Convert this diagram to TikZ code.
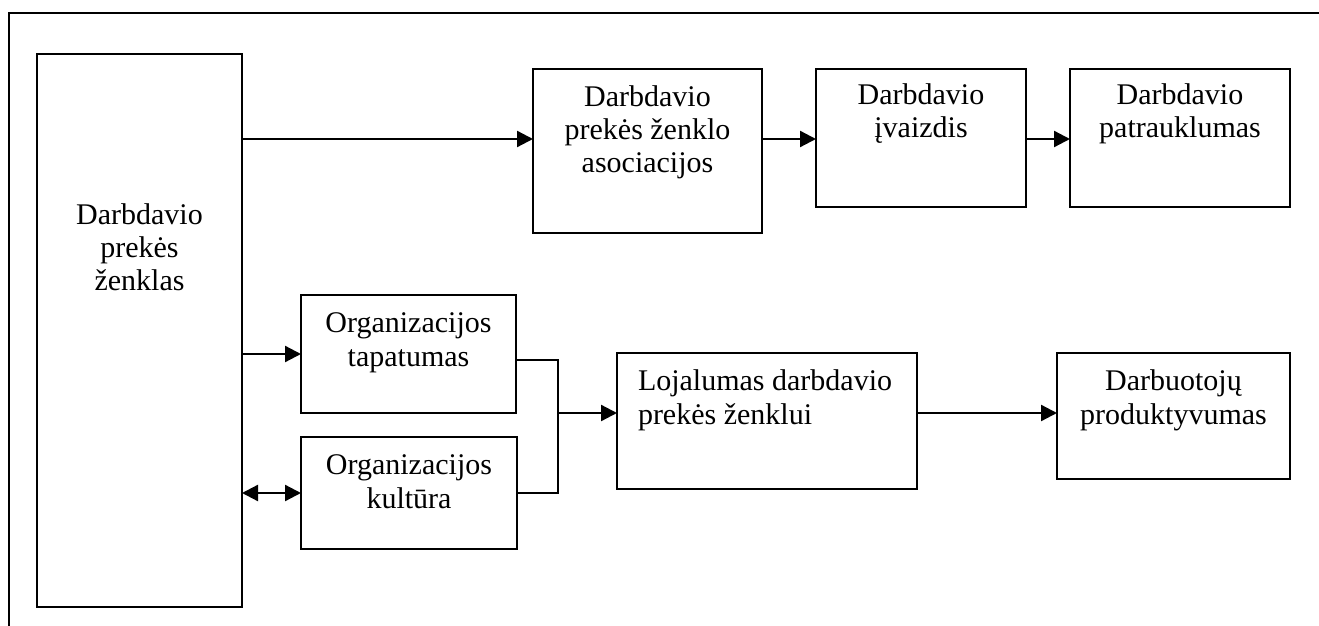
\documentclass[tikz,border=0pt]{standalone}
\usepackage{fontspec}
\setmainfont{Liberation Serif}
\usetikzlibrary{fit,arrows.meta}
\begin{document}
\begin{tikzpicture}[x=0.5pt,y=-0.5pt,
  box/.style={draw, line width=1.15pt, inner sep=0pt, outer sep=0pt, rectangle},
  txt/.style={inner sep=0pt, outer sep=0pt, align=center, font=\fontsize{15pt}{16.6pt}\selectfont},
  txtl/.style={inner sep=0pt, outer sep=0pt, align=left, font=\fontsize{15pt}{16.6pt}\selectfont},
  arr/.style={line width=1.15pt, -{Triangle[length=8pt,width=8pt]}},
  darr/.style={line width=1.15pt, {Triangle[length=8pt,width=8pt]}-{Triangle[length=8pt,width=8pt]}},
  ln/.style={line width=1.15pt}]
\useasboundingbox (0,0) rectangle (1319,626);
% outer frame (partly outside the page)
\coordinate (fbl) at (9,626);
\coordinate (ftl) at (9,13);
\coordinate (ftr) at (1319,13);
\draw[ln] (fbl) -- (ftl) -- (ftr);
% boxes
\node[box, fit={(37,54) (242,607)}] (main) {};
\node[box, fit={(533,69) (762,233)}] (asoc) {};
\node[box, fit={(816,69) (1026,207)}] (ivz) {};
\node[box, fit={(1070,69) (1290,207)}] (patr) {};
\node[box, fit={(301,295) (516,413)}] (tap) {};
\node[box, fit={(301,437) (517,549)}] (kul) {};
\node[box, fit={(617,353) (917,489)}] (loj) {};
\node[box, fit={(1057,353) (1290,479)}] (darb) {};
% texts (anchor=base is the baseline of the last line)
\node[txt, anchor=base] (mainT) at (139.5,291) {Darbdavio\\prekės\\ženklas};
\node[txt, anchor=base] (asocT) at (647.5,173) {Darbdavio\\prekės ženklo\\asociacijos};
\node[txt, anchor=base] (ivzT) at (921,138) {Darbdavio\\įvaizdis};
\node[txt, anchor=base] (patrT) at (1180,138) {Darbdavio\\patrauklumas};
\node[txt, anchor=base] (tapT) at (408.5,366) {Organizacijos\\tapatumas};
\node[txt, anchor=base] (kulT) at (409,508) {Organizacijos\\kultūra};
\node[txtl, anchor=base west] (lojT) at (638,424) {Lojalumas darbdavio\\prekės ženklui};
\node[txt, anchor=base] (darbT) at (1173.5,424) {Darbuotojų\\produktyvumas};
% connectors
\coordinate (topy) at (0,139);
\coordinate (J) at (558,413);
\draw[arr] (main.east |- topy) -- (asoc.west |- topy);
\draw[arr] (asoc.east |- topy) -- (ivz.west |- topy);
\draw[arr] (ivz.east |- topy) -- (patr.west |- topy);
\draw[arr] (main.east |- tap.west) -- (tap.west);
\draw[darr] (main.east |- kul.west) -- (kul.west);
\draw[ln] ([yshift=-3]tap.east) -- ([yshift=-3]tap.east -| J) -- (kul.east -| J) -- (kul.east);
\draw[arr] (J) -- (loj.west |- J);
\draw[arr] (loj.east |- J) -- (darb.west |- J);
\end{tikzpicture}
\end{document}
